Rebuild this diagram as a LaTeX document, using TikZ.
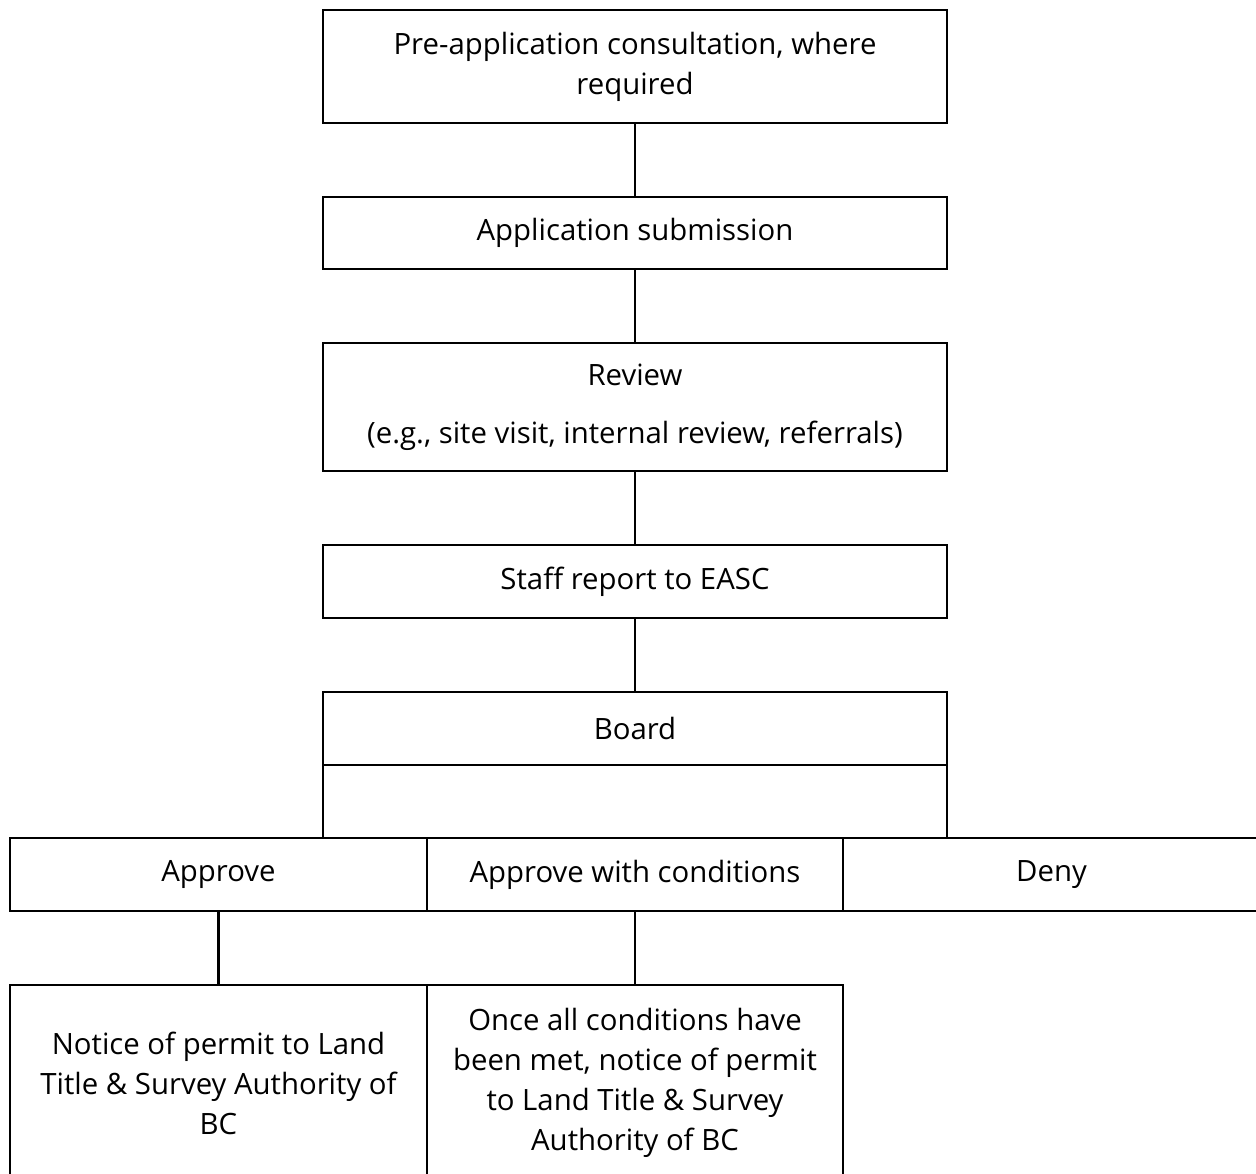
\documentclass[tikz,border=0pt]{standalone}
\usepackage{fontspec}
\setmainfont{Open Sans}
\usepackage{tikz}
\usetikzlibrary{positioning}

\begin{document}
\begin{tikzpicture}[
    node distance=1.48cm and 0cm,
    box/.style={rectangle, draw=black, line width=1.2pt, outer sep=0pt, align=center, minimum width=12.48cm, minimum height=1.46cm, inner sep=0pt, font=\fontsize{16.7}{22.8}\selectfont},
    cell/.style={box, minimum width=8.33cm},
    link/.style={draw=black, line width=1.2pt}
]
    \useasboundingbox (-12.7,1.33) rectangle (12.42,-22.13);

    \node [box, minimum height=2.26cm] (n1) {Pre-application consultation, where\\required};
    \node [box, minimum height=1.44cm, below=of n1] (n2) {Application submission};
    \node [box, minimum height=2.56cm, below=of n2] (n3) {Review\\[10pt](e.g., site visit, internal review, referrals)};
    \node [box, below=of n3] (n4) {Staff report to EASC};
    \node [box, below=of n4] (n5) {Board};
    \node [box, below=0cm of n5] (n6) {};

    \node [cell, below=0cm of n6] (n8) {Approve with conditions};
    \node [cell, left=of n8] (n7) {Approve};
    \node [cell, right=of n8] (n9) {Deny};

    \node [cell, minimum height=3.92cm, below=of n7] (n10) {Notice of permit to Land\\Title \& Survey Authority of\\BC};
    \node [cell, minimum height=3.92cm, below=of n8] (n11) {Once all conditions have\\been met, notice of permit\\to Land Title \& Survey\\Authority of BC};

    \draw [link] (n1) -- (n2);
    \draw [link] (n2) -- (n3);
    \draw [link] (n3) -- (n4);
    \draw [link] (n4) -- (n5);
    \draw [link] (n7) -- (n10);
    \draw [link] (n8) -- (n11);
\end{tikzpicture}
\end{document}
